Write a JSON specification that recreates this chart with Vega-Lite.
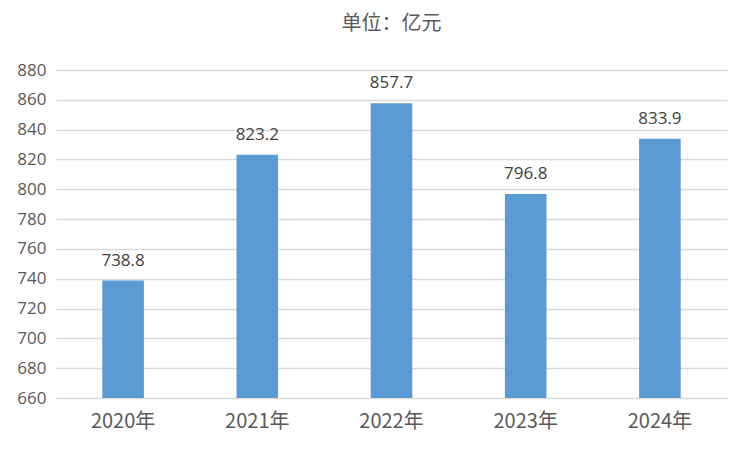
{
  "$schema": "https://vega.github.io/schema/vega-lite/v6.json",
  "autosize": {"type": "fit", "contains": "padding"},
  "width": 752,
  "height": 452,
  "padding": {"left": 16, "top": 14, "right": 25, "bottom": 21},
  "background": "white",
  "title": {
    "text": "单位：亿元",
    "font": "Noto Sans CJK SC",
    "fontSize": 20,
    "fontWeight": "normal",
    "color": "#595959",
    "offset": 27
  },
  "data": {
    "values": [
      {"year": "2020年", "value": 738.8},
      {"year": "2021年", "value": 823.2},
      {"year": "2022年", "value": 857.7},
      {"year": "2023年", "value": 796.8},
      {"year": "2024年", "value": 833.9}
    ]
  },
  "encoding": {
    "x": {
      "field": "year",
      "type": "nominal",
      "sort": null,
      "scale": {"paddingInner": 0.69, "paddingOuter": 0.345},
      "axis": {
        "title": null,
        "labelAngle": 0,
        "labelFont": "Noto Sans CJK SC",
        "labelFontSize": 20,
        "labelColor": "#595959",
        "labelPadding": 13,
        "ticks": false,
        "domain": false
      }
    },
    "y": {
      "field": "value",
      "type": "quantitative",
      "scale": {"domain": [660, 880], "nice": false, "zero": false},
      "axis": {
        "title": null,
        "values": [660, 680, 700, 720, 740, 760, 780, 800, 820, 840, 860, 880],
        "labelFont": "Open Sans",
        "labelFontSize": 17,
        "labelColor": "#595959",
        "labelPadding": 10,
        "ticks": false,
        "domain": false,
        "gridColor": "#d9d9d9",
        "gridWidth": 1.5
      }
    }
  },
  "layer": [
    {"mark": {"type": "bar", "color": "#5B9BD5", "clip": true}},
    {
      "mark": {
        "type": "text",
        "baseline": "bottom",
        "dy": -11,
        "font": "Open Sans",
        "fontSize": 17,
        "color": "#404040"
      },
      "encoding": {"text": {"field": "value", "type": "quantitative", "format": ".1f"}}
    }
  ],
  "config": {"view": {"stroke": null}}
}
